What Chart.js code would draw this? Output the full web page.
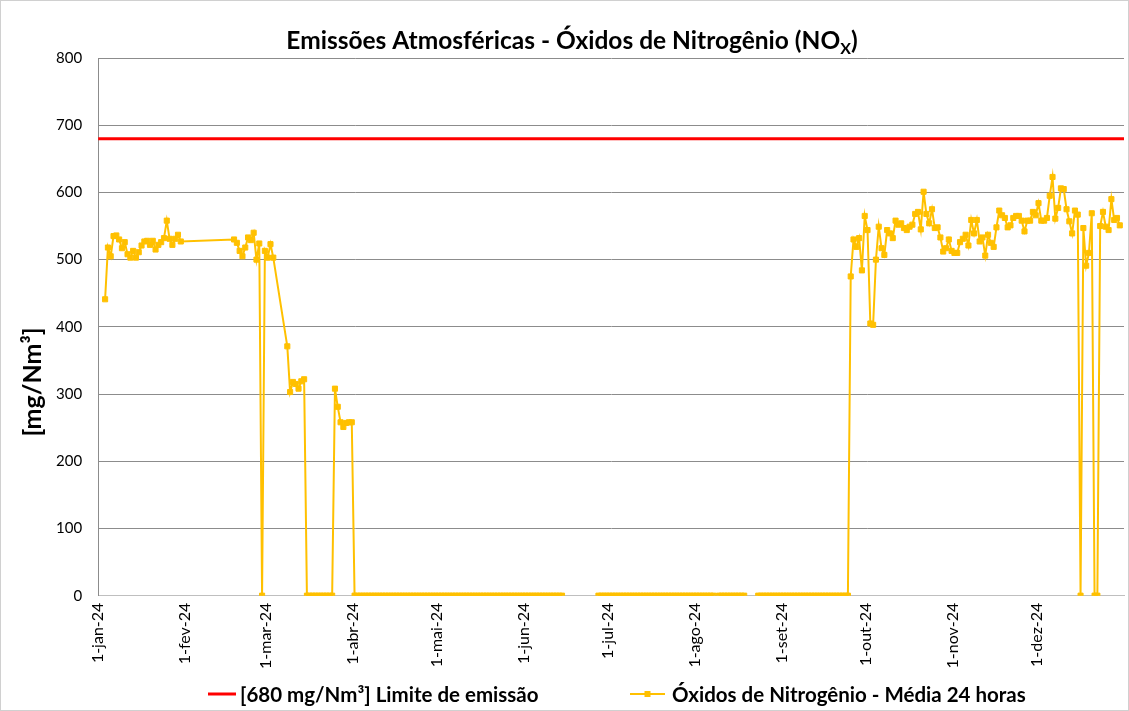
<!DOCTYPE html>
<html><head><meta charset="utf-8">
<script src="https://cdn.jsdelivr.net/npm/chart.js@4.4.1/dist/chart.umd.min.js"></script>
<style>html,body{margin:0;padding:0;background:#fff;}canvas{display:block;}</style>
</head><body>
<canvas id="c" width="1129" height="711"></canvas>
<script>
// ---------- text ----------
const titleMain = 'Emissões Atmosféricas - Óxidos de Nitrogênio (NO';
const titleSub = 'X';
const titleEnd = ')';
const yAxisTitle = '[mg/Nm³]';
const limitLabel = '[680 mg/Nm³] Limite de emissão';
const noxLabel = 'Óxidos de Nitrogênio - Média 24 horas';

// ---------- axis ticks ----------
const monthTickDates = ['2024-01-01','2024-02-01','2024-03-01','2024-04-01','2024-05-01','2024-06-01',
  '2024-07-01','2024-08-01','2024-09-01','2024-10-01','2024-11-01','2024-12-01'];
const monthTickLabels = ['1-jan-24','1-fev-24','1-mar-24','1-abr-24','1-mai-24','1-jun-24',
  '1-jul-24','1-ago-24','1-set-24','1-out-24','1-nov-24','1-dez-24'];
const yTickValues = [0,100,200,300,400,500,600,700,800];
const axisStartDate = '2024-01-01';
const axisEndDate = '2025-01-01';

// ---------- limit series ----------
const limitDates = ['2024-01-01','2025-01-01'];
const limitValues = [680, 680];

// ---------- NOx daily series (runs of consecutive days; null = blank day) ----------
const runStartDates = ['2024-01-03','2024-02-18','2024-03-08'];
const noxJan = [441,518,505,535,536,530,517,526,508,503,513,503,511,521,527,528,522,528,515,522,526,532,558,531,522,531,537,527];
const noxFeb = [530,525,513,505,518,533,529,540,500,524,0,513,503,523,503];
const noxMarDec = [
  371,303,318,315,308,319,322,
  0,0,0,0,0,0,0,0,0,0,
  308,281,258,251,257,258,258,
  0,0,0,0,0,0,0,0,0,0,0,0,0,0,0,0,0,0,0,0,0,0,0,0,0,
  0,0,0,0,0,0,0,0,0,0,0,0,0,0,0,0,0,0,0,0,0,0,0,0,0,
  0,0,0,0,0,0,0,0,0,0,0,0,0,0,0,0,0,0,0,0,0,0,0,0,0,
  null,null,null,null,null,null,null,null,null,null,null,null,
  0,0,0,0,0,0,0,0,0,0,0,0,0,0,0,0,0,0,0,0,0,0,0,0,0,
  0,0,0,0,0,0,0,0,0,0,0,0,0,0,0,0,0,
  null,
  0,0,0,0,0,0,0,0,0,0,
  null,null,null,null,
  0,0,0,0,0,0,0,0,0,0,0,0,0,0,0,0,0,0,0,0,0,0,0,0,0,
  0,0,0,0,0,0,0,0,
  475,530,519,532,484,565,544,405,403,500,549,517,507,544,539,532,558,552,554,547,
  544,549,552,568,571,545,601,568,554,575,547,548,533,512,517,530,513,510,510,526,
  531,537,521,559,539,559,527,533,506,537,525,519,548,573,566,562,548,551,562,565,
  565,558,542,558,558,571,566,584,558,558,562,595,623,561,577,606,605,575,557,539,
  573,567,0,547,491,510,569,0,0,550,571,549,544,590,559,562,551
];
const noxRuns = [noxJan, noxFeb, noxMarDec];

// ---------- helpers ----------
function dayIndex(s) {
  const [y, m, d] = s.split('-').map(Number);
  return (Date.UTC(y, m - 1, d) - Date.UTC(2024, 0, 1)) / 86400000;
}
const noxPoints = [];
noxRuns.forEach((run, r) => {
  const start = dayIndex(runStartDates[r]);
  run.forEach((v, i) => noxPoints.push({ x: start + i + 0.5, y: v }));
});
const limitPoints = limitDates.map((d, i) => ({ x: dayIndex(d), y: limitValues[i] }));

const FONT = 'Lato, "Liberation Sans", sans-serif';
const GOLD = '#FFC000';
const RED = '#FF0000';

const decorPlugin = {
  id: 'decor',
  afterDraw(chart) {
    const ctx = chart.ctx;
    ctx.save();
    ctx.fillStyle = '#000';
    // title with subscript
    ctx.textBaseline = 'alphabetic';
    ctx.textAlign = 'left';
    const big = 'bold 24.5px ' + FONT, small = 'bold 16px ' + FONT;
    ctx.font = big; const w1 = ctx.measureText(titleMain).width; const w3 = ctx.measureText(titleEnd).width;
    ctx.font = small; const w2 = ctx.measureText(titleSub).width;
    let x = 572 - (w1 + w2 + w3) / 2;
    const y = 49;
    ctx.font = big; ctx.fillText(titleMain, x, y); x += w1;
    ctx.font = small; ctx.fillText(titleSub, x, y + 5); x += w2;
    ctx.font = big; ctx.fillText(titleEnd, x, y);

    // y-axis title
    ctx.save();
    ctx.translate(33, 382);
    ctx.rotate(-Math.PI / 2);
    ctx.textAlign = 'center'; ctx.textBaseline = 'middle';
    ctx.font = 'bold 25px ' + FONT;
    ctx.fillText(yAxisTitle, 0, 0);
    ctx.restore();

    // legend
    ctx.font = 'bold 20.5px ' + FONT;
    ctx.textAlign = 'left'; ctx.textBaseline = 'middle';
    const ly = 694;
    // item 1
    let lx = 208;
    ctx.strokeStyle = RED; ctx.lineWidth = 3;
    ctx.beginPath(); ctx.moveTo(lx, ly); ctx.lineTo(lx + 28, ly); ctx.stroke();
    ctx.fillText(limitLabel, lx + 32, ly + 1);
    // item 2
    lx = 630;
    ctx.strokeStyle = GOLD; ctx.lineWidth = 2;
    ctx.beginPath(); ctx.moveTo(lx, ly); ctx.lineTo(lx + 35, ly); ctx.stroke();
    ctx.fillStyle = GOLD; ctx.fillRect(lx + 17.5 - 3, ly - 3, 6, 6);
    ctx.fillStyle = '#000';
    ctx.fillText(noxLabel, lx + 42, ly + 1);

    // chart-area frame
    ctx.strokeStyle = '#d0d0d0'; ctx.lineWidth = 1;
    ctx.strokeRect(0.5, 0.5, chart.width - 1, chart.height - 1);
    ctx.restore();
  }
};

new Chart(document.getElementById('c'), {
  type: 'line',
  data: {
    datasets: [
      { label: limitLabel, data: limitPoints, borderColor: RED, backgroundColor: RED, borderWidth: 3, pointRadius: 0, order: 0 },
      { label: noxLabel, data: noxPoints, borderColor: GOLD, backgroundColor: GOLD, borderWidth: 2,
        pointStyle: 'rect', pointRadius: 3.6, pointBorderWidth: 1, pointBorderColor: GOLD, pointBackgroundColor: GOLD,
        spanGaps: false, tension: 0, order: 1 }
    ]
  },
  options: {
    responsive: false, animation: false, devicePixelRatio: 1,
    layout: { padding: { top: 58, right: 4, left: 40, bottom: 35 } },
    plugins: {
      title: { display: false },
      tooltip: { enabled: false },
      legend: { display: false }
    },
    scales: {
      x: {
        type: 'linear', min: dayIndex(axisStartDate), max: dayIndex(axisEndDate),
        afterBuildTicks(scale) { scale.ticks = monthTickDates.map(d => ({ value: dayIndex(d) })); },
        ticks: {
          autoSkip: false, minRotation: 90, maxRotation: 90, padding: 7, color: '#000',
          font: { family: FONT, size: 16 },
          callback(value) { const i = monthTickDates.findIndex(d => dayIndex(d) === value); return monthTickLabels[i]; }
        },
        grid: { display: false, drawTicks: false },
        border: { display: true, color: '#bfbfbf', width: 1 }
      },
      y: {
        min: 0, max: 800,
        afterBuildTicks(scale) { scale.ticks = yTickValues.map(v => ({ value: v })); },
        ticks: { padding: 16, color: '#000', font: { family: FONT, size: 15 } },
        grid: { color: ctx => ctx.tick && ctx.tick.value === 0 ? '#bfbfbf' : '#8c8c8c', drawTicks: false },
        border: { display: true, color: '#8c8c8c' },
        title: { display: false, text: yAxisTitle }
      }
    }
  },
  plugins: [decorPlugin]
});
</script>
</body></html>
